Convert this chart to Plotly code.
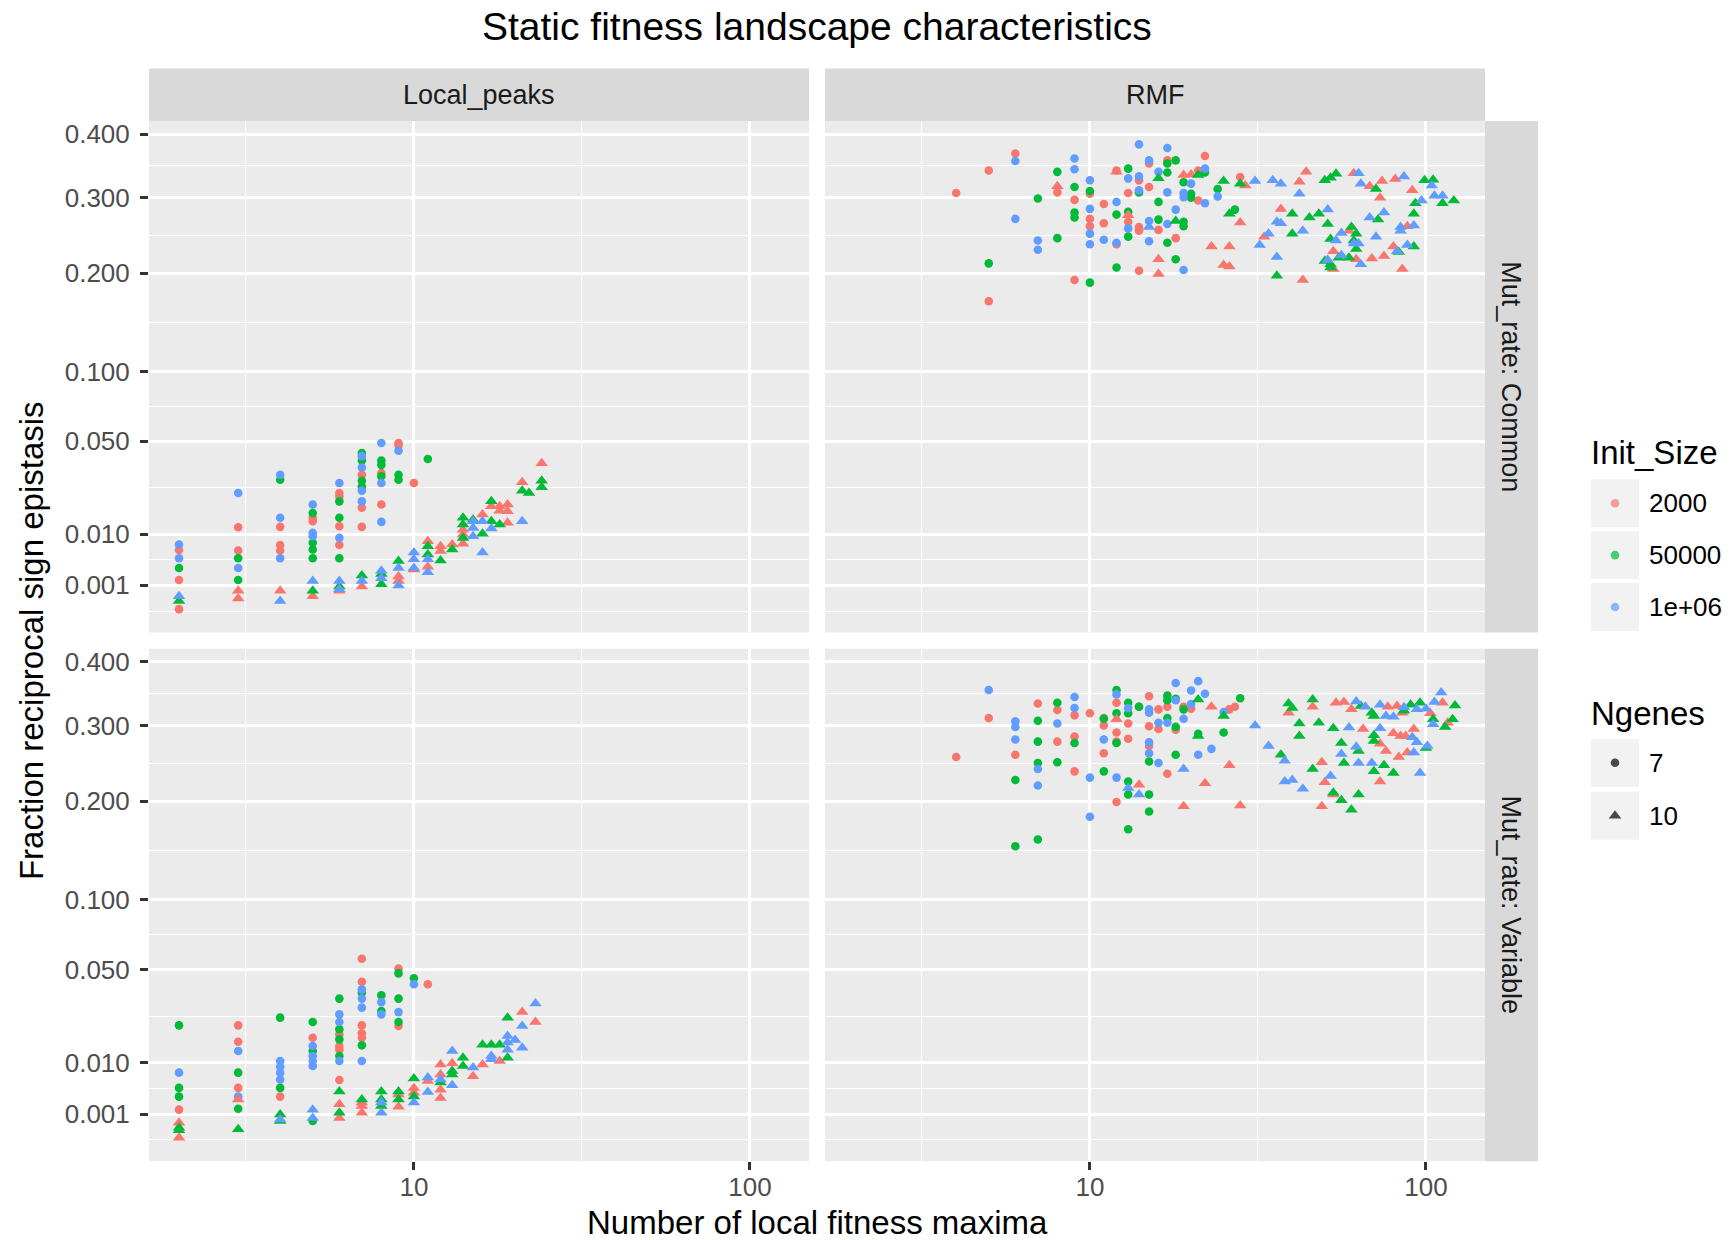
import numpy as np
import plotly.graph_objects as go

W, H = 1730, 1240

# ------------------------------------------------------------------
# Data: number of local fitness maxima (x) vs fraction of reciprocal
# sign epistasis (y), split by landscape model / mutation-rate regime,
# initial population size and number of genes.
# ------------------------------------------------------------------

# Local_peaks, Mut_rate: Common
lpc_2000_7_x = [2, 2, 2, 3, 3, 4, 4, 4, 5, 5, 6, 6, 6, 6, 7, 7, 7, 8, 8, 9, 9, 10]
lpc_2000_7_y = [0.0062, 0.0015, 0.0, 0.0119, 0.0061, 0.012, 0.0073, 0.0061, 0.0148, 0.0137, 0.0239,
                0.0226, 0.0122, 0.0073, 0.032, 0.0182, 0.012, 0.0328, 0.0194, 0.0489, 0.0475, 0.0282]
lpc_50000_7_x = [2, 3, 3, 4, 5, 5, 5, 5, 6, 6, 6, 7, 7, 7, 7, 8, 8, 8, 9, 9, 11]
lpc_50000_7_y = [0.003, 0.0046, 0.0015, 0.0297, 0.0164, 0.0078, 0.0063, 0.0046, 0.0206, 0.0148, 0.0046,
                 0.0432, 0.0392, 0.0292, 0.0267, 0.0392, 0.0369, 0.0313, 0.032, 0.0297, 0.040]
lpc_1e6_7_x = [2, 2, 3, 3, 4, 4, 4, 5, 5, 5, 6, 6, 7, 7, 7, 7, 8, 8, 8, 9]
lpc_1e6_7_y = [0.0074, 0.0046, 0.0239, 0.003, 0.032, 0.0148, 0.0046, 0.0194, 0.0103, 0.0094, 0.0282,
               0.009, 0.0415, 0.0356, 0.0249, 0.0206, 0.0489, 0.0282, 0.0135, 0.0445]
lpc_2000_10_x = [3, 3, 4, 5, 6, 7, 9, 9, 10, 11, 11, 12, 12, 13, 14, 14, 14, 16, 17, 18, 18, 19, 19,
                 19, 21, 24]
lpc_2000_10_y = [0.0006, 0.0002, 0.0006, 0.0003, 0.0006, 0.0009, 0.0019, 0.0014, 0.0028, 0.0082,
                 0.0032, 0.007, 0.006, 0.0074, 0.0112, 0.0099, 0.0076, 0.0159, 0.0188, 0.0188, 0.0172,
                 0.0194, 0.017, 0.0132, 0.0286, 0.0378]
lpc_50000_10_x = [2, 5, 6, 7, 8, 8, 9, 11, 11, 12, 13, 14, 14, 14, 15, 16, 17, 17, 18, 21, 22, 24, 24]
lpc_50000_10_y = [0.00012, 0.0006, 0.0009, 0.002, 0.0022, 0.0011, 0.0041, 0.007, 0.0053, 0.0042,
                  0.0063, 0.0148, 0.0127, 0.009, 0.0142, 0.0101, 0.0206, 0.0137, 0.0127, 0.0249,
                  0.0239, 0.0292, 0.0263]
lpc_1e6_10_x = [2, 4, 5, 6, 6, 7, 8, 8, 9, 9, 10, 10, 10, 11, 11, 15, 15, 15, 16, 16, 17, 21]
lpc_1e6_10_y = [0.0003, 0.00012, 0.0014, 0.0014, 0.0007, 0.0014, 0.0026, 0.0017, 0.003, 0.001,
                0.0057, 0.0044, 0.003, 0.0044, 0.0024, 0.0137, 0.0117, 0.0094, 0.0137, 0.0057,
                0.0115, 0.0137]

# Local_peaks, Mut_rate: Variable
lpv_2000_7_x = [2, 3, 3, 3, 4, 5, 6, 6, 6, 6, 7, 7, 7, 7, 7, 9, 9, 11]
lpv_2000_7_y = [0.0014, 0.0223, 0.0163, 0.0044, 0.003, 0.0177, 0.0189, 0.0149, 0.0138, 0.0059,
                0.0566, 0.043, 0.0223, 0.0193, 0.0177, 0.0505, 0.0221, 0.0416]
lpv_50000_7_x = [2, 2, 2, 3, 3, 4, 4, 5, 5, 5, 6, 6, 6, 6, 7, 7, 8, 8, 9, 9, 9, 10]
lpv_50000_7_y = [0.0223, 0.0044, 0.003, 0.0075, 0.0015, 0.0255, 0.0044, 0.0237, 0.0133, 0.0005,
                 0.0342, 0.0208, 0.0171, 0.0118, 0.0372, 0.0151, 0.0358, 0.0284, 0.0477, 0.0342,
                 0.0237, 0.0449]
lpv_1e6_7_x = [2, 3, 3, 4, 4, 4, 4, 5, 5, 5, 5, 6, 6, 6, 7, 7, 7, 7, 8, 8, 9, 10]
lpv_1e6_7_y = [0.0075, 0.0133, 0.003, 0.0104, 0.0089, 0.0075, 0.006, 0.0149, 0.0118, 0.0104, 0.0091,
               0.0269, 0.0237, 0.0104, 0.0389, 0.0342, 0.0299, 0.0104, 0.0325, 0.0269, 0.0279, 0.0416]
lpv_2000_10_x = [2, 2, 3, 6, 6, 7, 7, 7, 9, 9, 10, 10, 11, 12, 12, 12, 12, 13, 15, 16, 18, 21, 23]
lpv_2000_10_y = [0.0004, 0.0, 0.0026, 0.002, 0.0007, 0.0022, 0.0018, 0.0011, 0.0033, 0.0017, 0.0044,
                 0.0036, 0.0057, 0.0095, 0.0071, 0.0041, 0.0028, 0.0098, 0.0067, 0.0095, 0.0104,
                 0.0279, 0.0237]
lpv_50000_10_x = [2, 2, 3, 4, 4, 6, 6, 7, 8, 8, 8, 9, 9, 10, 10, 12, 13, 13, 14, 14, 16, 17, 18, 19, 19]
lpv_50000_10_y = [0.00018, 0.0001, 0.00013, 0.00097, 0.0005, 0.0038, 0.0011, 0.0026, 0.0038, 0.0026,
                  0.0018, 0.0038, 0.0026, 0.0062, 0.003, 0.0054, 0.0079, 0.0071, 0.0113, 0.0091,
                  0.0153, 0.0153, 0.0153, 0.0255, 0.0113]
lpv_1e6_10_x = [4, 5, 5, 8, 8, 10, 11, 11, 12, 13, 13, 15, 17, 17, 19, 19, 19, 20, 21, 21, 23]
lpv_1e6_10_y = [0.0006, 0.0014, 0.0007, 0.0022, 0.0011, 0.0022, 0.0064, 0.0037, 0.006, 0.0133, 0.0049,
                0.0087, 0.0118, 0.0109, 0.0183, 0.016, 0.0137, 0.0169, 0.0221, 0.0143, 0.0319]

# RMF, Mut_rate: Common
rmc_2000_7_x = [4, 5, 5, 6, 8, 9, 9, 10, 10, 10, 11, 11, 12, 12, 13, 13, 14, 14, 14, 14, 15, 15, 16,
                17, 18, 21, 21, 22, 28]
rmc_2000_7_y = [0.307, 0.341, 0.168, 0.368, 0.308, 0.297, 0.192, 0.306, 0.270, 0.260, 0.291, 0.264,
                0.341, 0.236, 0.307, 0.266, 0.326, 0.259, 0.254, 0.203, 0.352, 0.316, 0.255, 0.357,
                0.244, 0.341, 0.296, 0.364, 0.331]
rmc_50000_7_x = [5, 7, 8, 8, 9, 9, 9, 10, 10, 12, 12, 13, 13, 13, 14, 16, 16, 17, 17, 17, 18, 18, 19,
                 19, 19, 20, 20, 22, 24, 27]
rmc_50000_7_y = [0.212, 0.299, 0.339, 0.244, 0.316, 0.279, 0.272, 0.310, 0.189, 0.276, 0.207, 0.344,
                 0.280, 0.246, 0.308, 0.294, 0.269, 0.352, 0.338, 0.238, 0.357, 0.217, 0.323, 0.266,
                 0.260, 0.306, 0.300, 0.338, 0.313, 0.283]
rmc_1e6_7_x = [6, 6, 7, 7, 9, 9, 10, 10, 10, 10, 11, 12, 12, 13, 13, 14, 14, 14, 15, 15, 15, 16, 17,
               17, 17, 18, 19, 19, 19, 20, 22, 22, 24]
rmc_1e6_7_y = [0.356, 0.270, 0.241, 0.229, 0.360, 0.343, 0.326, 0.284, 0.250, 0.236, 0.242, 0.294,
               0.238, 0.329, 0.257, 0.383, 0.332, 0.311, 0.357, 0.267, 0.240, 0.339, 0.377, 0.308,
               0.263, 0.283, 0.307, 0.301, 0.204, 0.321, 0.344, 0.292, 0.302]
rmc_2000_10_x = [8, 12, 13, 16, 16, 19, 20, 23, 25, 26, 26, 28, 29, 33, 37, 42, 43, 44, 53, 53, 59, 61,
                 62, 68, 69, 73, 74, 75, 80, 81, 85, 88, 91]
rmc_2000_10_y = [0.317, 0.339, 0.275, 0.217, 0.199, 0.334, 0.335, 0.233, 0.210, 0.233, 0.208, 0.265,
                 0.318, 0.246, 0.284, 0.324, 0.192, 0.339, 0.227, 0.205, 0.254, 0.337, 0.217, 0.317,
                 0.218, 0.300, 0.325, 0.221, 0.233, 0.328, 0.205, 0.260, 0.311]
rmc_50000_10_x = [16, 18, 21, 25, 26, 28, 36, 40, 40, 45, 48, 50, 50, 51, 52, 52, 52, 52, 54, 55, 59,
                  60, 61, 62, 62, 71, 72, 83, 92, 92, 93, 99, 105, 112, 121]
rmc_50000_10_y = [0.329, 0.267, 0.334, 0.325, 0.277, 0.321, 0.197, 0.277, 0.250, 0.272, 0.277, 0.326,
                  0.215, 0.263, 0.330, 0.243, 0.211, 0.207, 0.336, 0.219, 0.219, 0.259, 0.241, 0.250,
                  0.230, 0.313, 0.269, 0.226, 0.277, 0.233, 0.292, 0.326, 0.327, 0.292, 0.296]
rmc_1e6_10_x = [15, 31, 32, 34, 35, 36, 36, 37, 37, 42, 43, 51, 51, 54, 56, 56, 61, 63, 63, 64, 64, 68,
                71, 75, 82, 84, 84, 86, 88, 92, 97, 104, 106, 112]
rmc_1e6_10_y = [0.259, 0.325, 0.235, 0.250, 0.326, 0.266, 0.220, 0.321, 0.264, 0.306, 0.254, 0.283,
                0.216, 0.241, 0.251, 0.222, 0.237, 0.337, 0.237, 0.321, 0.211, 0.272, 0.246, 0.279,
                0.227, 0.259, 0.254, 0.332, 0.235, 0.261, 0.296, 0.318, 0.303, 0.303]

# RMF, Mut_rate: Variable
rmv_2000_7_x = [4, 5, 6, 7, 8, 8, 9, 9, 9, 10, 11, 11, 11, 12, 12, 12, 12, 13, 13, 14, 15, 15, 15, 16,
                16, 17, 17, 18, 19, 20, 26, 27]
rmv_2000_7_y = [0.256, 0.311, 0.259, 0.333, 0.323, 0.277, 0.315, 0.284, 0.237, 0.318, 0.311, 0.300,
                0.261, 0.334, 0.290, 0.277, 0.199, 0.303, 0.281, 0.328, 0.344, 0.299, 0.271, 0.324,
                0.295, 0.328, 0.234, 0.294, 0.328, 0.325, 0.324, 0.328]
rmv_50000_7_x = [6, 6, 7, 7, 7, 7, 8, 8, 9, 11, 11, 12, 12, 12, 13, 13, 13, 13, 13, 14, 15, 15, 15, 17,
                 17, 17, 18, 18, 18, 19, 21, 25, 28]
rmv_50000_7_y = [0.226, 0.150, 0.307, 0.277, 0.248, 0.157, 0.334, 0.249, 0.275, 0.310, 0.237, 0.354,
                 0.318, 0.275, 0.334, 0.318, 0.224, 0.208, 0.168, 0.328, 0.250, 0.208, 0.188, 0.345,
                 0.338, 0.311, 0.340, 0.298, 0.259, 0.324, 0.288, 0.290, 0.341]
rmv_1e6_7_x = [5, 6, 6, 6, 7, 7, 8, 9, 9, 10, 10, 11, 12, 12, 13, 15, 15, 15, 15, 16, 16, 17, 18, 18,
               19, 20, 20, 21, 21, 22, 23, 25]
rmv_1e6_7_y = [0.354, 0.306, 0.298, 0.280, 0.240, 0.219, 0.303, 0.343, 0.326, 0.229, 0.182, 0.280,
               0.347, 0.229, 0.326, 0.324, 0.319, 0.276, 0.261, 0.304, 0.248, 0.304, 0.365, 0.338,
               0.310, 0.353, 0.332, 0.368, 0.259, 0.348, 0.267, 0.320]
rmv_2000_10_x = [12, 14, 19, 22, 23, 26, 28, 39, 46, 49, 49, 50, 53, 54, 57, 60, 65, 73, 73, 76, 77,
                 80, 82, 83, 84, 85, 87, 88, 92, 103, 112, 116]
rmv_2000_10_y = [0.309, 0.220, 0.194, 0.222, 0.328, 0.245, 0.195, 0.319, 0.328, 0.249, 0.194, 0.223,
                 0.208, 0.334, 0.335, 0.324, 0.295, 0.274, 0.224, 0.264, 0.328, 0.289, 0.329, 0.256,
                 0.285, 0.319, 0.285, 0.262, 0.295, 0.318, 0.334, 0.304]
rmv_50000_10_x = [21, 21, 25, 37, 39, 40, 42, 42, 46, 46, 48, 53, 53, 56, 56, 57, 60, 63, 63, 64, 69,
                  70, 70, 70, 70, 75, 80, 86, 90, 96, 100, 105, 114, 120, 122]
rmv_50000_10_y = [0.339, 0.285, 0.314, 0.259, 0.333, 0.326, 0.303, 0.285, 0.339, 0.240, 0.304, 0.296,
                  0.210, 0.275, 0.201, 0.248, 0.190, 0.264, 0.208, 0.329, 0.319, 0.314, 0.286, 0.278,
                  0.237, 0.245, 0.235, 0.322, 0.331, 0.334, 0.268, 0.309, 0.298, 0.309, 0.330]
rmv_1e6_10_x = [13, 14, 19, 31, 34, 38, 38, 40, 43, 52, 56, 59, 62, 62, 63, 66, 69, 73, 73, 76, 80, 86,
                91, 92, 94, 94, 96, 100, 101, 105, 106, 111]
rmv_1e6_10_y = [0.216, 0.208, 0.240, 0.300, 0.271, 0.251, 0.224, 0.226, 0.215, 0.231, 0.260, 0.297,
                0.336, 0.270, 0.248, 0.328, 0.248, 0.331, 0.296, 0.314, 0.313, 0.327, 0.283, 0.262,
                0.324, 0.276, 0.235, 0.325, 0.271, 0.302, 0.335, 0.350]

facet_cols = ["Local_peaks", "RMF"]
facet_rows = ["Mut_rate: Common", "Mut_rate: Variable"]
init_levels = ["2000", "50000", "1e+06"]
ngenes_levels = ["7", "10"]
y_breaks = [0.001, 0.010, 0.050, 0.100, 0.200, 0.300, 0.400]
y_labels = ["0.001", "0.010", "0.050", "0.100", "0.200", "0.300", "0.400"]
x_breaks = [10, 100]
x_labels = ["10", "100"]

# panel (row, col) -> {(init, ngenes): (x, y)}
panels = {
    (0, 0): {("2000", "7"): (lpc_2000_7_x, lpc_2000_7_y), ("50000", "7"): (lpc_50000_7_x, lpc_50000_7_y),
             ("1e+06", "7"): (lpc_1e6_7_x, lpc_1e6_7_y), ("2000", "10"): (lpc_2000_10_x, lpc_2000_10_y),
             ("50000", "10"): (lpc_50000_10_x, lpc_50000_10_y), ("1e+06", "10"): (lpc_1e6_10_x, lpc_1e6_10_y)},
    (1, 0): {("2000", "7"): (lpv_2000_7_x, lpv_2000_7_y), ("50000", "7"): (lpv_50000_7_x, lpv_50000_7_y),
             ("1e+06", "7"): (lpv_1e6_7_x, lpv_1e6_7_y), ("2000", "10"): (lpv_2000_10_x, lpv_2000_10_y),
             ("50000", "10"): (lpv_50000_10_x, lpv_50000_10_y), ("1e+06", "10"): (lpv_1e6_10_x, lpv_1e6_10_y)},
    (0, 1): {("2000", "7"): (rmc_2000_7_x, rmc_2000_7_y), ("50000", "7"): (rmc_50000_7_x, rmc_50000_7_y),
             ("1e+06", "7"): (rmc_1e6_7_x, rmc_1e6_7_y), ("2000", "10"): (rmc_2000_10_x, rmc_2000_10_y),
             ("50000", "10"): (rmc_50000_10_x, rmc_50000_10_y), ("1e+06", "10"): (rmc_1e6_10_x, rmc_1e6_10_y)},
    (1, 1): {("2000", "7"): (rmv_2000_7_x, rmv_2000_7_y), ("50000", "7"): (rmv_50000_7_x, rmv_50000_7_y),
             ("1e+06", "7"): (rmv_1e6_7_x, rmv_1e6_7_y), ("2000", "10"): (rmv_2000_10_x, rmv_2000_10_y),
             ("50000", "10"): (rmv_50000_10_x, rmv_50000_10_y), ("1e+06", "10"): (rmv_1e6_10_x, rmv_1e6_10_y)},
}

# ------------------------------------------------------------------
# Styling
# ------------------------------------------------------------------
FONT = "Liberation Sans, Arial, Helvetica, sans-serif"
COLORS = {"2000": "#F8766D", "50000": "#00BA38", "1e+06": "#619CFF"}
SYMBOLS = {"7": "circle", "10": "triangle-up"}
SIZES = {"7": 8.6, "10": 11}
PANEL_BG = "#EBEBEB"
STRIP_BG = "#D9D9D9"
KEY_BG = "#F2F2F2"
MAJOR_W, MINOR_W = 2.7, 1.35

# pixel geometry of the facet grid
col_px = [(149, 809), (825, 1485)]
row_px = [(119.3, 631.4), (647.7, 1161.0)]
strip_top_px = (66.7, 119.3)
strip_right_px = (1485, 1538)


def fx(px):
    return px / W


def fy(py):
    return 1 - py / H


# shared scales: log10 on x, square root on y, both with a 5 % expansion
all_x = np.concatenate([np.asarray(v[0], float) for p in panels.values() for v in p.values()])
all_y = np.concatenate([np.asarray(v[1], float) for p in panels.values() for v in p.values()])
lx_min, lx_max = np.log10(all_x.min()), np.log10(all_x.max())
pad = 0.05 * (lx_max - lx_min)
x_range = [lx_min - pad, lx_max + pad]
sy_min, sy_max = np.sqrt(all_y.min()), np.sqrt(all_y.max())
pad = 0.05 * (sy_max - sy_min)
y_range = [sy_min - pad, sy_max + pad]

y_major = np.sqrt(y_breaks)
y_minor = list((y_major[:-1] + y_major[1:]) / 2)
below = y_major[0] - (y_major[1] - y_major[0]) / 2
if below > y_range[0]:
    y_minor.insert(0, below)
x_minor = [10 ** 0.5, 10 ** 1.5]

fig = go.Figure()
layout = dict(
    width=W, height=H, autosize=False,
    margin=dict(l=0, r=0, t=0, b=0, pad=0),
    paper_bgcolor="white", plot_bgcolor="rgba(0,0,0,0)",
    showlegend=False,
    font=dict(family=FONT, color="#1A1A1A"),
)
shapes = []
annotations = []

for (r, c), groups in panels.items():
    k = r * 2 + c
    sfx = "" if k == 0 else str(k + 1)
    xa, ya = "x" + sfx, "y" + sfx
    for ng in ngenes_levels:
        for init in init_levels:
            xs, ys = groups[(init, ng)]
            fig.add_trace(go.Scatter(
                x=xs, y=np.sqrt(np.asarray(ys, float)), mode="markers",
                xaxis=xa, yaxis=ya,
                marker=dict(color=COLORS[init], symbol=SYMBOLS[ng], size=SIZES[ng], line=dict(width=0)),
                hovertemplate="%{x}<extra></extra>",
            ))
    x0, x1 = col_px[c]
    y0, y1 = row_px[r]
    bottom, left = (r == 1), (c == 0)
    layout["xaxis" + sfx] = dict(
        type="log", range=x_range, domain=[fx(x0), fx(x1)], anchor=ya,
        showgrid=True, gridcolor="white", gridwidth=MAJOR_W, zeroline=False, showline=False,
        tickmode="array", tickvals=x_breaks, ticktext=x_labels,
        ticks="outside" if bottom else "", ticklen=8, tickwidth=MAJOR_W, tickcolor="#333333",
        ticklabelstandoff=-5,
        showticklabels=bottom, tickfont=dict(size=26, color="#4D4D4D", family=FONT),
        minor=dict(tickmode="array", tickvals=x_minor, showgrid=True, gridcolor="white",
                   gridwidth=MINOR_W, ticks=""),
        fixedrange=True,
    )
    layout["yaxis" + sfx] = dict(
        range=y_range, domain=[fy(y1), fy(y0)], anchor=xa,
        showgrid=True, gridcolor="white", gridwidth=MAJOR_W, zeroline=False, showline=False,
        tickmode="array", tickvals=list(y_major), ticktext=y_labels,
        ticks="outside" if left else "", ticklen=8, tickwidth=MAJOR_W, tickcolor="#333333",
        ticklabelstandoff=5,
        showticklabels=left, tickfont=dict(size=26, color="#4D4D4D", family=FONT),
        minor=dict(tickmode="array", tickvals=y_minor, showgrid=True, gridcolor="white",
                   gridwidth=MINOR_W, ticks=""),
        fixedrange=True,
    )
    # panel background
    shapes.append(dict(type="rect", xref="paper", yref="paper", layer="below",
                       x0=fx(x0), x1=fx(x1), y0=fy(y1), y1=fy(y0),
                       fillcolor=PANEL_BG, line=dict(width=0)))

# facet strips
for c, label in enumerate(facet_cols):
    x0, x1 = col_px[c]
    shapes.append(dict(type="rect", xref="paper", yref="paper", layer="below",
                       x0=fx(x0), x1=fx(x1), y0=fy(strip_top_px[1]), y1=fy(strip_top_px[0]),
                       fillcolor=STRIP_BG, line=dict(width=0)))
    annotations.append(dict(text=label, xref="paper", yref="paper", showarrow=False,
                            x=fx((x0 + x1) / 2), y=fy(sum(strip_top_px) / 2),
                            xanchor="center", yanchor="middle",
                            font=dict(size=27, color="#1A1A1A", family=FONT)))
for r, label in enumerate(facet_rows):
    y0, y1 = row_px[r]
    shapes.append(dict(type="rect", xref="paper", yref="paper", layer="below",
                       x0=fx(strip_right_px[0]), x1=fx(strip_right_px[1]), y0=fy(y1), y1=fy(y0),
                       fillcolor=STRIP_BG, line=dict(width=0)))
    annotations.append(dict(text=label, xref="paper", yref="paper", showarrow=False,
                            x=fx(sum(strip_right_px) / 2), y=fy((y0 + y1) / 2), textangle=90,
                            xanchor="center", yanchor="middle",
                            font=dict(size=27, color="#1A1A1A", family=FONT)))

# title and axis titles
grid_cx = (col_px[0][0] + col_px[1][1]) / 2
grid_cy = (row_px[0][0] + row_px[1][1]) / 2
annotations.append(dict(text="Static fitness landscape characteristics", xref="paper", yref="paper",
                        showarrow=False, x=fx(grid_cx), y=fy(25), xanchor="center", yanchor="middle",
                        font=dict(size=39, color="black", family=FONT)))
annotations.append(dict(text="Number of local fitness maxima", xref="paper", yref="paper",
                        showarrow=False, x=fx(grid_cx), y=fy(1222), xanchor="center", yanchor="middle",
                        font=dict(size=33, color="black", family=FONT)))
annotations.append(dict(text="Fraction reciprocal sign epistasis", xref="paper", yref="paper",
                        showarrow=False, x=fx(31), y=fy(grid_cy), textangle=-90,
                        xanchor="center", yanchor="middle",
                        font=dict(size=33, color="black", family=FONT)))

# legends: grey key boxes, key glyphs on a pixel-space overlay axis, labels
key_x0, key_x1 = 1591, 1639
key_cx = (key_x0 + key_x1) / 2
label_x = 1647
legend_specs = [
    ("Init_Size", 451, [(478, 526), (530, 578), (582, 630)],
     init_levels, [COLORS[v] for v in init_levels], ["circle"] * 3, [8.6] * 3),
    ("Ngenes", 713, [(738, 786), (791, 839)],
     ngenes_levels, ["black", "black"], [SYMBOLS[v] for v in ngenes_levels], [8.6, 11]),
]
kx, ky, kc, ks, kz = [], [], [], [], []
for title, ty, rows, labels, cols, syms, szs in legend_specs:
    annotations.append(dict(text=title, xref="paper", yref="paper", showarrow=False,
                            x=fx(1589), y=fy(ty), xanchor="left", yanchor="middle",
                            font=dict(size=33, color="black", family=FONT)))
    for (r0, r1), lab, col, sym, sz in zip(rows, labels, cols, syms, szs):
        shapes.append(dict(type="rect", xref="paper", yref="paper", layer="below",
                           x0=fx(key_x0), x1=fx(key_x1), y0=fy(r1), y1=fy(r0),
                           fillcolor=KEY_BG, line=dict(width=0)))
        annotations.append(dict(text=lab, xref="paper", yref="paper", showarrow=False,
                                x=fx(label_x), y=fy((r0 + r1) / 2), xanchor="left", yanchor="middle",
                                font=dict(size=26, color="black", family=FONT)))
        kx.append(key_cx)
        ky.append((r0 + r1) / 2)
        kc.append(col)
        ks.append(sym)
        kz.append(sz)

fig.add_trace(go.Scatter(x=kx, y=ky, mode="markers", xaxis="x5", yaxis="y5", hoverinfo="skip",
                         marker=dict(color=kc, symbol=ks, size=kz, line=dict(width=0))))
layout["xaxis5"] = dict(domain=[0, 1], range=[0, W], anchor="y5", visible=False, fixedrange=True)
layout["yaxis5"] = dict(domain=[0, 1], range=[H, 0], anchor="x5", visible=False, fixedrange=True)

layout["shapes"] = shapes
layout["annotations"] = annotations
fig.update_layout(**layout)
fig.write_html("out.html", config={"displayModeBar": False})
